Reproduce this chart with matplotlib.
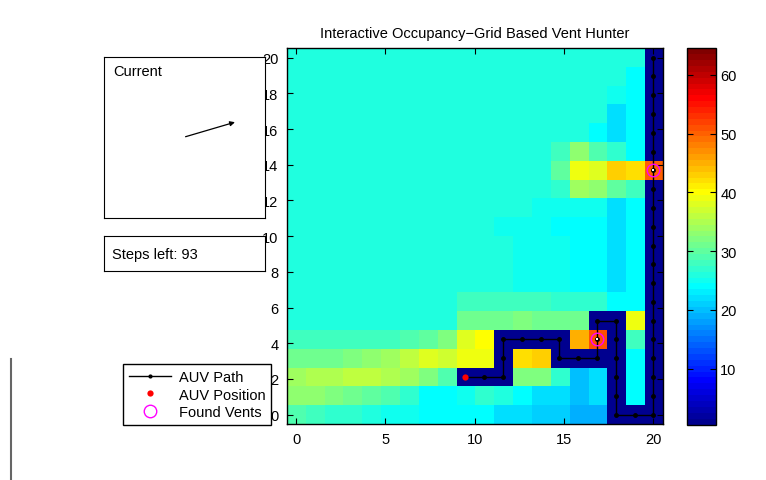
import numpy as np
import matplotlib
matplotlib.use("Agg")
import matplotlib.pyplot as plt
from matplotlib.colors import ListedColormap
from matplotlib.lines import Line2D

plt.rcParams['font.family'] = ['Liberation Sans', 'DejaVu Sans']

# occupancy grid (colour index 1..64), row 0 = y 0 (bottom), col 0 = x 0
grid_rows = [
    [29, 28, 27, 27, 26, 25, 25, 24, 24, 24, 24, 22, 22, 21, 21, 19, 19, 1, 1, 1],
    [33, 33, 32, 31, 30, 29, 27, 24, 24, 25, 27, 26, 24, 22, 22, 20, 22, 1, 24, 1],
    [34, 35, 35, 36, 36, 35, 34, 32, 29, 1, 1, 1, 32, 32, 27, 20, 22, 1, 24, 1],
    [31, 31, 31, 32, 33, 34, 36, 38, 37, 39, 39, 1, 42, 43, 1, 1, 1, 1, 24, 1],
    [28, 28, 28, 28, 28, 28, 29, 30, 32, 38, 40, 1, 1, 1, 1, 45, 51, 1, 28, 1],
    [26, 26, 26, 26, 26, 26, 26, 26, 26, 31, 31, 31, 32, 31, 31, 31, 1, 1, 39, 1],
    [26, 26, 26, 26, 26, 26, 26, 26, 26, 28, 28, 28, 28, 28, 27, 27, 27, 24, 24, 1],
    [26, 26, 26, 26, 26, 26, 26, 26, 26, 26, 26, 26, 25, 25, 25, 24, 24, 22, 24, 1],
    [26, 26, 26, 26, 26, 26, 26, 26, 26, 26, 26, 26, 25, 25, 25, 24, 24, 22, 24, 1],
    [26, 26, 26, 26, 26, 26, 26, 26, 26, 26, 26, 26, 25, 25, 25, 24, 24, 22, 24, 1],
    [26, 26, 26, 26, 26, 26, 26, 26, 26, 26, 26, 25, 25, 25, 24, 24, 24, 22, 24, 1],
    [26, 26, 26, 26, 26, 26, 26, 26, 26, 26, 26, 26, 26, 25, 25, 25, 25, 22, 24, 1],
    [26, 26, 26, 26, 26, 26, 26, 26, 26, 26, 26, 26, 26, 26, 27, 34, 33, 30, 28, 1],
    [26, 26, 26, 26, 26, 26, 26, 26, 26, 26, 26, 26, 26, 26, 30, 39, 38, 43, 42, 50],
    [26, 26, 26, 26, 26, 26, 26, 26, 26, 26, 26, 26, 26, 26, 28, 33, 29, 27, 24, 1],
    [26, 26, 26, 26, 26, 26, 26, 26, 26, 26, 26, 26, 26, 26, 26, 26, 24, 22, 24, 1],
    [26, 26, 26, 26, 26, 26, 26, 26, 26, 26, 26, 26, 26, 26, 26, 26, 26, 22, 24, 1],
    [26, 26, 26, 26, 26, 26, 26, 26, 26, 26, 26, 26, 26, 26, 26, 26, 26, 25, 24, 1],
    [26, 26, 26, 26, 26, 26, 26, 26, 26, 26, 26, 26, 26, 26, 26, 26, 26, 26, 24, 1],
    [26, 26, 26, 26, 26, 26, 26, 26, 26, 26, 26, 26, 26, 26, 26, 26, 26, 26, 26, 1],
]

# AUV path in grid cells (col, row)
path_x = [19] * 20 + [18, 17, 17, 17, 17, 17, 17, 16, 16, 16, 15, 14, 14, 13, 12, 11, 11, 11, 10, 9]
path_y = list(range(19, -1, -1)) + [0, 0, 1, 2, 3, 4, 5, 5, 4, 3, 3, 3, 4, 4, 4, 4, 3, 2, 2, 2]
auv_pos = (9, 2)
vents_x = [19, 16]
vents_y = [13, 4]

steps_left = 93
current_uv = (0.34, 0.10)

axis_ticks = [0, 5, 10, 15, 20]
cbar_ticks = [10, 20, 30, 40, 50, 60]


def matlab_jet(m=64):
    """ MATLAB style jet(m) """
    n = int(np.ceil(m / 4))
    u = np.concatenate([np.arange(1, n + 1) / n, np.ones(n - 1), np.arange(n, 0, -1) / n])
    g = int(np.ceil(n / 2)) - (1 if m % 4 == 1 else 0) + np.arange(1, len(u) + 1)
    r = g + n
    b = g - n
    J = np.zeros((m, 3))
    for col, idx in ((0, r), (1, g), (2, b)):
        keep = (idx >= 1) & (idx <= m)
        J[idx[keep] - 1, col] = u[keep]
    return J


W, H = 766, 481
fig = plt.figure(figsize=(W / 100, H / 100), dpi=100)


def px_axes(x0, y0, x1, y1):
    return fig.add_axes([x0 / W, 1 - y1 / H, (x1 - x0) / W, (y1 - y0) / H])


cmap = ListedColormap(matlab_jet(64))
s = 20 / 19
C = np.array(grid_rows)

ax = px_axes(286.7, 49.3, 662.7, 425)
im = ax.imshow(C, cmap=cmap, vmin=0.5, vmax=64.5, origin='lower', interpolation='nearest',
               extent=(-s / 2, 20 + s / 2, -s / 2, 20 + s / 2), aspect='auto')
ax.plot(np.array(path_x) * s, np.array(path_y) * s, '-', color='black', lw=1,
        marker='.', markersize=5)
ax.plot(auv_pos[0] * s, auv_pos[1] * s, 'o', color='red', markersize=4.5, markeredgewidth=0)
ax.plot(np.array(vents_x) * s, np.array(vents_y) * s, 'o', markerfacecolor='none',
        markeredgecolor='magenta', markersize=9, markeredgewidth=1)
ax.plot(np.array(vents_x) * s, np.array(vents_y) * s, 's', color='white', markersize=2,
        markeredgewidth=0)
ax.set_xlim(-s / 2, 20 + s / 2)
ax.set_ylim(-s / 2, 20 + s / 2)
ax.set_xticks(axis_ticks)
ax.set_yticks(list(range(0, 21, 2)))
ax.tick_params(direction='in', top=True, right=True, length=4, labelsize=10.5, pad=6)
for sp in ax.spines.values():
    sp.set_linewidth(1)
ax.set_title('Interactive Occupancy\u2212Grid Based Vent Hunter', fontsize=10.5, pad=8)

cax = px_axes(687.3, 49.3, 716, 425.5)
cb = fig.colorbar(im, cax=cax, ticks=cbar_ticks)
cb.outline.set_linewidth(1)
cax.tick_params(direction='in', left=True, right=True, length=4, labelsize=10.5, pad=3)

# current box
bx = px_axes(104, 58, 265, 219)
bx.set_xlim(0, 1)
bx.set_ylim(0, 1)
bx.set_xticks([])
bx.set_yticks([])
bx.text(0.056, 0.91, 'Current', fontsize=10.5, va='center', ha='left')
bx.annotate('', xy=(0.49 + current_uv[0], 0.5 + current_uv[1]), xytext=(0.49, 0.5),
            arrowprops=dict(arrowstyle='-|>', color='black', lw=0.9, mutation_scale=7))

sx = px_axes(104, 237, 265, 272)
sx.set_xticks([])
sx.set_yticks([])
sx.text(0.05, 0.5, 'Steps left: %d' % steps_left, fontsize=10.5, va='center', ha='left',
        transform=sx.transAxes)

handles = [
    Line2D([], [], color='black', lw=1, marker='.', markersize=4),
    Line2D([], [], ls='none', marker='o', color='red', markersize=4.5, markeredgewidth=0),
    Line2D([], [], ls='none', marker='o', markerfacecolor='none', markeredgecolor='magenta',
           markersize=9),
]
leg = fig.legend(handles, ['AUV Path', 'AUV Position', 'Found Vents'], loc='lower right',
                 bbox_to_anchor=(271 / W, 1 - 426 / H), fontsize=10.5, frameon=True,
                 fancybox=False, edgecolor='black', framealpha=1, handlelength=2.9,
                 labelspacing=0.25, borderpad=0.4, handletextpad=0.5, borderaxespad=0)
leg.get_frame().set_linewidth(1)

fig.add_artist(Line2D([11 / W, 11 / W], [0, 1 - 360 / H], color='#666666', lw=1.5))

fig.savefig('out.png', dpi=100)
